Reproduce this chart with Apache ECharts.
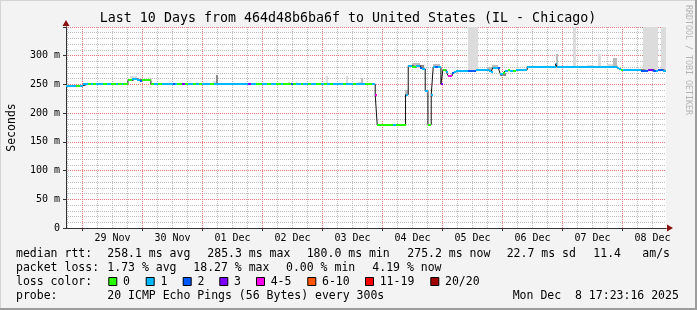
<!DOCTYPE html>
<html><head><meta charset="utf-8">
<script src="https://cdn.jsdelivr.net/npm/echarts@6/dist/echarts.min.js"></script>
<style>html,body{margin:0;padding:0;background:#f3f3f3}#c{width:697px;height:310px}</style>
</head><body><div id="c"></div><script>
// ---- data (hours counted from 28 Nov 2025 00:00) ----
const titleText = 'Last 10 Days from 464d48b6ba6f to United States (IL - Chicago)';
const startHour = 17.39;   // 28 Nov 17:23
const endHour = 257.39;    // 08 Dec 17:23
const dayLabels = ['29 Nov','30 Nov','01 Dec','02 Dec','03 Dec','04 Dec','05 Dec','06 Dec','07 Dec','08 Dec'];
const yTickValues = [0, 50, 100, 150, 200, 250, 300];

const lossColors = ['#26ff00','#00b8ff','#0059ff','#7e00ff','#ff00ea','#ff5500','#ff0000','#a10000'];
const lossLabels = ['0','1','2','3','4-5','6-10','11-19','20/20'];

// median rtt (ms), each value holds from its start hour to the next start hour
const medianHours = [17.39,21.48,23.08,24.00,26.28,27.48,28.28,29.48,32.28,33.88,35.48,37.48,38.28,39.88,40.28,
  42.16,43.76,45.76,46.96,47.76,51.36,52.68,54.28,55.88,60.16,60.96,61.88,63.88,64.96,66.28,68.28,69.48,70.68,71.88,75.08,76.68,
  90.28,91.48,93.48,95.88,97.88,99.48,101.48,103.48,104.28,107.48,108.28,109.48,111.48,112.28,114.28,115.48,117.48,119.48,120.68,
  121.88,123.08,124.28,128.28,129.48,132.28,133.48,137.08,139.88,141.08,141.88,148.28,149.48,153.20,154.28,155.88,157.48,159.08,
  159.60,161.08,162.16,163.48,164.28,165.08,166.28,167.36,168.16,169.48,170.28,171.88,172.68,173.48,178.28,181.48,186.68,187.48,
  188.08,190.28,191.08,192.28,193.08,194.28,195.08,196.28,197.48,201.88,213.28,213.68,237.88,238.68,239.48,240.28,247.48,250.28,
  252.28,253.48,254.28,256.28];
const medianMs = [247.5,247.5,247.5,250.5,250.5,250.5,250.5,250.5,250.5,250.5,250.5,250.5,250.5,250.5,250.5,
  257,260,258,256.5,257,250.5,250.5,250.5,250.5,250.5,250.5,250.5,250.5,250.5,250.5,250.5,250.5,250.5,250.5,250.5,250.5,
  250.5,250.5,250.5,250.5,250.5,250.5,250.5,250.5,250.5,250.5,250.5,250.5,250.5,250.5,250.5,250.5,250.5,250.5,250.5,
  250.5,250.5,250.5,250.5,250.5,250.5,250.5,250.5,250.5,231.5,180,180,180,232,282.5,280.5,282.5,279,
  277,239,180,232,280.5,280.5,280.5,250.8,275.5,272,265,270,272,274,274,275.5,274,272,
  279,279,268.5,270,274,275.5,274,274,275.5,281,286,281,279,277,275.5,275.5,274,275.5,
  274,274,275.5,274];
const medianLoss = [1,0,1,1,0,1,0,1,0,1,0,1,0,1,0,
  0,1,1,2,0,0,1,0,1,2,1,0,3,0,1,0,1,0,1,0,1,
  3,1,0,1,0,1,0,1,0,2,0,1,0,1,0,1,0,1,0,
  1,0,1,0,1,0,1,0,1,4,0,1,0,1,1,0,1,2,
  1,1,0,1,1,2,1,3,0,1,4,2,1,1,2,1,1,1,
  1,2,1,0,1,0,1,0,1,1,1,1,1,1,0,1,2,3,
  2,1,2,1];

// smoke (spread of the pings): from hour, to hour, low ms, high ms, shade
const smokeFrom  = [178.28,220.28,248.28,255.48,43.08,26.28,69.48,76.28,77.48,81.48,86.28,106.28,109.48,121.48,129.48,134.28,135.48,
  153.08,155.88,159.08,164.28,185.88,187.88,191.08,213.48,225.88,230.28,233.88,236.28];
const smokeTo    = [182.28,221.48,254.28,257.39,45.88,27.48,70.28,77.48,78.28,82.28,87.48,107.08,110.28,122.28,130.28,135.48,136.28,
  154.28,159.08,160.68,167.08,187.88,190.28,193.48,214.28,227.88,231.48,236.28,237.88];
const smokeLow   = [275,282,275,275,259,251,251,251,251,251,251,251,251,251,251,251,251,
  232,282,277,281,274,279,264,281,281,281,281,281];
const smokeHigh  = [360,360,360,360,265,253,255,256,267,253,253,254,254,264,264,255,261,
  240,287,283,285,280,284,270,303,283,303,285,296];
const smokeShade = [0,0,0,0,0,0,0,0,2,0,0,0,0,0,0,0,1,
  1,1,2,1,1,1,2,1,0,0,0,1];
const smokeColors = ['#dcdcdc','#bcbcbc','#8a8a8a'];

// legend texts
const rttHead = 'median rtt:';
const rttStats = ['258.1 ms avg','285.3 ms max','180.0 ms min','275.2 ms now','22.7 ms sd','11.4','am/s'];
const lossHead = 'packet loss:';
const lossStats = ['1.73 % avg','18.27 % max','0.00 % min','4.19 % now'];
const colorHead = 'loss color:';
const probeHead = 'probe:';
const probeText = '20 ICMP Echo Pings (56 Bytes) every 300s';
const stampText = 'Mon Dec  8 17:23:16 2025';
const watermark = 'RRDTOOL / TOBI OETIKER';

// ---- build ----
const FONT = '"DejaVu Sans Mono", monospace';
const dayStarts = dayLabels.map((d, i) => 24 + 24 * i);
const dayNoons = dayLabels.map((d, i) => 36 + 24 * i);
const quarterTicks = [];
for (let h = 0; h <= endHour; h += 6) if (h > startHour && h % 24 !== 0) quarterTicks.push(h);

const medianRows = medianHours.map((h, i) => [h, i + 1 < medianHours.length ? medianHours[i + 1] : endHour, medianMs[i], medianLoss[i]]);
const stepLine = medianHours.map((h, i) => [h, medianMs[i]]).concat([[endHour, medianMs[medianMs.length - 1]]]);
const smokeRows = smokeFrom.map((h, i) => [h, smokeTo[i], smokeLow[i], smokeHigh[i], smokeShade[i]]);

const chart = echarts.init(document.getElementById('c'), null, {renderer: 'canvas', width: 697, height: 310});

function clipToGrid(r, cs) {
  return echarts.graphic.clipRectByRect(r, {x: cs.x, y: cs.y, width: cs.width, height: cs.height});
}

const legendX = {rtt: [107.3, 207.3, 306.7, 407.3, 506.7, 593.3, 642.3], loss: [107.3, 193.3, 286, 372.3],
  box: [108.3, 145.7, 182.7, 219.3, 256, 307.3, 365, 430.3]};
const txt = (x, y, text, extra) => Object.assign({type: 'text', x: x, y: y, silent: true,
  style: Object.assign({text: text, font: '11.5px ' + FONT, fill: '#000', verticalAlign: 'middle', align: 'left'}, extra || {})});

const graphics = [
  {type: 'rect', shape: {x: 0, y: 0, width: 697, height: 1}, style: {fill: '#d4d4d4'}, silent: true},
  {type: 'rect', shape: {x: 0, y: 0, width: 1, height: 310}, style: {fill: '#d4d4d4'}, silent: true},
  {type: 'rect', shape: {x: 0, y: 308, width: 697, height: 2}, style: {fill: '#9c9c9c'}, silent: true},
  {type: 'rect', shape: {x: 695, y: 0, width: 2, height: 310}, style: {fill: '#9c9c9c'}, silent: true},
  txt(348, 19, titleText, {font: '13.3px ' + FONT, align: 'center'}),
  {type: 'text', x: 688, y: 60, rotation: -Math.PI / 2, silent: true,
    style: {text: watermark, font: '8.3px ' + FONT, fill: '#b4b4b4', align: 'center', verticalAlign: 'middle'}},
  txt(16, 254, rttHead), txt(16, 268.3, lossHead), txt(16, 281.7, colorHead), txt(16, 296.3, probeHead),
  txt(107.3, 296.3, probeText), txt(512.7, 296.3, stampText)
];
rttStats.forEach((s, i) => graphics.push(txt(legendX.rtt[i], 254, s)));
lossStats.forEach((s, i) => graphics.push(txt(legendX.loss[i], 268.3, s)));
lossLabels.forEach((s, i) => {
  graphics.push({type: 'rect', silent: true, shape: {x: legendX.box[i] + 0.5, y: 277.5, width: 8, height: 8},
    style: {fill: lossColors[i], stroke: '#000', lineWidth: 1}});
  graphics.push(txt(legendX.box[i] + 14.7, 281.7, s));
});

const option = {
  animation: false,
  backgroundColor: '#f3f3f3',
  grid: {left: 66, top: 27, width: 600, height: 201, show: true, backgroundColor: '#ffffff', borderWidth: 0,
    containLabel: false, outerBoundsMode: 'none'},
  xAxis: [
    {type: 'value', min: startHour, max: endHour, position: 'bottom', z: 1,
      axisLine: {show: true, onZero: false, lineStyle: {color: '#333', width: 1}},
      axisTick: {show: true, customValues: dayStarts, length: 3, lineStyle: {color: '#333'}},
      axisLabel: {customValues: dayNoons, formatter: v => dayLabels[Math.round((v - 36) / 24)],
        fontFamily: FONT, fontSize: 10, color: '#000', margin: 5},
      splitLine: {show: true, lineStyle: {color: '#ec7c7c', type: 'dotted', width: 1}}},
    {type: 'value', min: startHour, max: endHour, position: 'bottom', z: 0,
      axisLine: {show: true, onZero: false, symbol: ['none', 'triangle'], symbolSize: [7, 6], symbolOffset: [0, 4],
        lineStyle: {color: '#8b1010'}},
      axisTick: {show: false, customValues: quarterTicks},
      axisLabel: {show: false},
      splitLine: {show: true, lineStyle: {color: '#bdbdbd', type: 'dotted', width: 1}}}
  ],
  yAxis: [
    {type: 'value', min: 0, max: 350, interval: 50, z: 1,
      axisLine: {show: true, onZero: false, lineStyle: {color: '#333'}},
      axisTick: {show: true, length: 3, lineStyle: {color: '#333'}},
      axisLabel: {customValues: yTickValues, formatter: v => v === 0 ? '0' : v + ' m', fontFamily: FONT, fontSize: 10, color: '#000', margin: 6},
      splitLine: {show: true, lineStyle: {color: '#ec7c7c', type: 'dotted', width: 1}},
      minorTick: {show: false, splitNumber: 5},
      minorSplitLine: {show: true, lineStyle: {color: '#bdbdbd', type: 'dotted', width: 1}},
      name: 'Seconds', nameLocation: 'middle', nameGap: 48,
      nameTextStyle: {fontFamily: FONT, fontSize: 11.5, color: '#000'}},
    {type: 'value', min: 0, max: 350, position: 'left', z: 0,
      axisLine: {show: true, onZero: false, symbol: ['none', 'triangle'], symbolSize: [7, 6], symbolOffset: [0, 4],
        lineStyle: {color: '#8b1010'}},
      axisTick: {show: false}, axisLabel: {show: false}, splitLine: {show: false}}
  ],
  series: [
    {type: 'custom', name: 'smoke', coordinateSystem: 'cartesian2d', xAxisIndex: 0, yAxisIndex: 0, z: 2, silent: true,
      data: smokeRows, encode: {x: [0, 1], y: [2, 3]},
      renderItem: (params, api) => {
        const a = api.coord([api.value(0), api.value(3)]);
        const b = api.coord([api.value(1), api.value(2)]);
        const shape = clipToGrid({x: Math.round(a[0]), y: Math.round(a[1]), width: Math.round(b[0]) - Math.round(a[0]),
          height: Math.round(b[1]) - Math.round(a[1])}, params.coordSys);
        return shape ? {type: 'rect', shape: shape, style: {fill: smokeColors[api.value(4)]}} : null;
      }},
    {type: 'line', name: 'median', xAxisIndex: 0, yAxisIndex: 0, z: 3, silent: true, step: 'end',
      data: stepLine, symbol: 'none', lineStyle: {color: '#111', width: 1}},
    {type: 'custom', name: 'loss', coordinateSystem: 'cartesian2d', xAxisIndex: 0, yAxisIndex: 0, z: 4, silent: true,
      data: medianRows, encode: {x: [0, 1], y: 2},
      renderItem: (params, api) => {
        const a = api.coord([api.value(0), api.value(2)]);
        const b = api.coord([api.value(1), api.value(2)]);
        const x0 = Math.round(a[0]), x1 = Math.round(b[0]);
        return {type: 'rect', shape: {x: x0, y: Math.round(a[1]) - 1, width: Math.max(1, x1 - x0), height: 2},
          style: {fill: lossColors[api.value(3)]}};
      }}
  ],
  graphic: graphics
};
chart.setOption(option);
</script></body></html>
